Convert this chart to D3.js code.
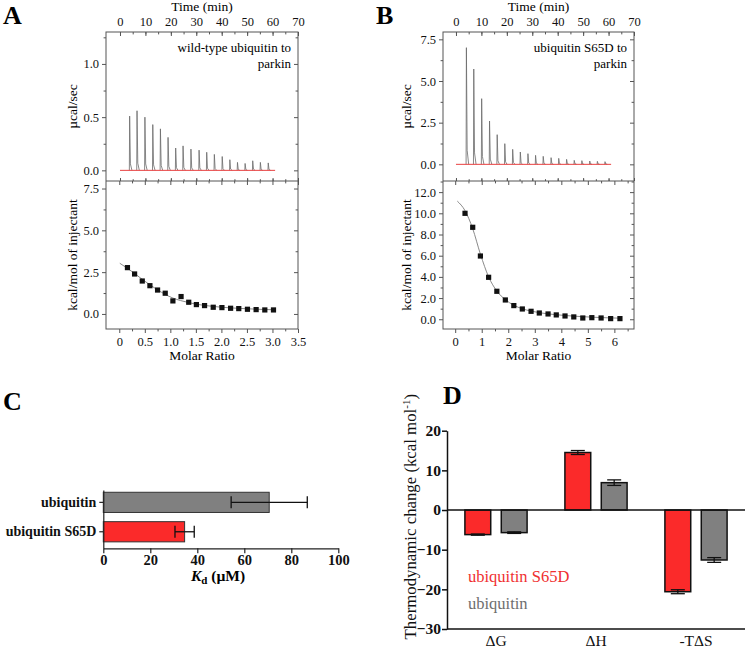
<!DOCTYPE html>
<html>
<head>
<meta charset="utf-8">
<script src="https://cdn.jsdelivr.net/npm/d3@7"></script>
<style>
  body { margin: 0; background: white; }
  svg { display: block; font-family: "Liberation Serif", "Times New Roman", "DejaVu Serif", serif; }
  svg text { font-family: "Liberation Serif", "Times New Roman", "DejaVu Serif", serif !important; }
</style>
</head>
<body>
<svg id="chart" width="745" height="648"></svg>
<script>
// ---- panel A: wild-type ubiquitin to parkin ----
let time_a = [3.8, 6.7, 9.8, 12.9, 15.9, 18.9, 21.9, 24.8, 27.9, 31.1, 34.1, 37.1, 40.2, 43.2, 46.2, 49.2, 52.2, 55.2, 58.3];
let peak_a = [0.51, 0.56, 0.50, 0.43, 0.39, 0.31, 0.21, 0.23, 0.20, 0.19, 0.17, 0.15, 0.13, 0.10, 0.075, 0.065, 0.09, 0.075, 0.07];
let ratio_a = [0.16, 0.30, 0.45, 0.60, 0.75, 0.90, 1.05, 1.21, 1.36, 1.51, 1.67, 1.84, 2.01, 2.18, 2.34, 2.51, 2.68, 2.85, 3.02];
let heat_a = [2.77, 2.39, 1.97, 1.69, 1.43, 1.24, 0.78, 1.04, 0.70, 0.56, 0.50, 0.40, 0.38, 0.34, 0.32, 0.28, 0.26, 0.24, 0.24];
let fit_a = [[0.01, 3.03], [0.16, 2.73], [0.30, 2.42], [0.45, 2.07], [0.60, 1.74], [0.75, 1.44], [0.90, 1.17], [1.05, 0.95],
             [1.20, 0.80], [1.36, 0.68], [1.51, 0.58], [1.67, 0.51], [1.84, 0.45], [2.01, 0.40], [2.2, 0.36], [2.5, 0.31], [2.8, 0.27], [3.05, 0.25]];

// ---- panel B: ubiquitin S65D to parkin ----
let time_b = [4.1, 7.0, 10.1, 13.2, 16.2, 19.2, 22.3, 25.3, 28.3, 31.3, 34.3, 37.4, 40.4, 43.5, 46.5, 49.5, 52.6, 55.6, 58.6];
let peak_b = [7.0, 5.72, 3.94, 2.6, 1.78, 1.24, 0.9, 0.74, 0.64, 0.54, 0.48, 0.40, 0.36, 0.30, 0.24, 0.22, 0.20, 0.18, 0.16];
let ratio_b = [0.37, 0.66, 0.95, 1.26, 1.57, 1.89, 2.21, 2.53, 2.86, 3.17, 3.50, 3.81, 4.14, 4.47, 4.81, 5.15, 5.50, 5.86, 6.21];
let heat_b = [10.0, 8.68, 5.97, 3.96, 2.64, 1.82, 1.29, 0.97, 0.75, 0.59, 0.50, 0.41, 0.31, 0.22, 0.12, 0.15, 0.12, 0.06, 0.06];
let fit_b = [[0.08, 11.15], [0.37, 10.25], [0.66, 8.55], [0.95, 6.15], [1.26, 4.0], [1.57, 2.66], [1.89, 1.85], [2.21, 1.32],
             [2.53, 0.99], [2.86, 0.77], [3.2, 0.61], [3.8, 0.43], [4.5, 0.29], [5.2, 0.19], [6.25, 0.10]];

// ---- panel C: Kd ----
let kd_names = ["ubiquitin", "ubiquitin S65D"];
let kd_values = [70.6, 34.6];
let kd_errors = [16.2, 4.1];
let kd_ticks = [0, 20, 40, 60, 80, 100];

// ---- panel D: thermodynamics ----
let thermo_terms = ["\u0394G", "\u0394H", "-T\u0394S"];
let thermo_series = ["ubiquitin S65D", "ubiquitin"];
let thermo_s65d = [-6.2, 14.5, -20.6];
let thermo_s65d_err = [0.15, 0.5, 0.5];
let thermo_ubq = [-5.7, 6.9, -12.6];
let thermo_ubq_err = [0.2, 0.7, 0.6];
let thermo_ticks = [-30, -20, -10, 0, 10, 20];

let frame_color = "#555";
let red = "#fb2a2a";
let gray = "#808080";

let svg = d3.select("#chart").style("background-color", "white");
svg.append("rect").attr("width", 745).attr("height", 648).attr("fill", "white");

function range_step(a, b, s) {
    let out = [];
    for (let v = a; v <= b + 1e-9; v += s) out.push(+v.toFixed(4));
    return out;
}

function addAxis(g_parent, axis_fn, scale, tx, ty, major, minor, size, pad, fmt, font_size, bold) {
    if (minor) {
        let gm = g_parent.append("g").attr("transform", "translate(" + tx + "," + ty + ")");
        gm.call(axis_fn(scale).tickValues(minor).tickSize(size * 0.6).tickFormat(""));
        gm.select(".domain").remove();
        gm.selectAll(".tick line").attr("stroke", frame_color);
    }
    let g = g_parent.append("g").attr("transform", "translate(" + tx + "," + ty + ")");
    g.call(axis_fn(scale).tickValues(major).tickSize(size).tickPadding(pad).tickFormat(fmt));
    g.attr("font-family", null);
    g.select(".domain").remove();
    g.selectAll(".tick line").attr("stroke", frame_color);
    g.selectAll(".tick text")
        .style("font-size", font_size + "px")
        .style("font-weight", bold ? "bold" : "normal")
        .attr("fill", "#111");
    return g;
}

function drawItc(p) {
    let g = svg.append("g");
    let x_time = d3.scaleLinear().domain(p.time_domain).range([p.left, p.right]);
    let y_top = d3.scaleLinear().domain(p.top_domain).range([p.mid, p.top]);
    let x_ratio = d3.scaleLinear().domain(p.ratio_domain).range([p.left, p.right]);
    let y_bot = d3.scaleLinear().domain(p.bot_domain).range([p.bottom, p.mid]);
    let f1 = d3.format(".1f");

    // top axes
    addAxis(g, d3.axisTop, x_time, 0, p.top, range_step(0, 70, 10), range_step(0, 70, 5), -4, 6, d3.format("d"), 12.5);
    addAxis(g, d3.axisLeft, y_top, p.left, 0, p.top_major, p.top_minor, 4, 3, f1, 12.5);
    addAxis(g, d3.axisLeft, y_top, p.right, 0, p.top_major, p.top_minor, 4, 3, "", 12);
    addAxis(g, d3.axisTop, x_time, 0, p.mid, range_step(0, 70, 10), range_step(0, 70, 5), 3, 3, "", 12);

    // bottom axes
    addAxis(g, d3.axisBottom, x_ratio, 0, p.mid, p.ratio_major, p.ratio_minor, 4, 3, "", 12);
    addAxis(g, d3.axisBottom, x_ratio, 0, p.bottom, p.ratio_major, p.ratio_minor, 4, 4,
        d => d === 0 ? "0" : p.ratio_fmt(d), 12.5);
    addAxis(g, d3.axisLeft, y_bot, p.left, 0, p.bot_major, p.bot_minor, 4, 3, f1, 12.5);
    addAxis(g, d3.axisLeft, y_bot, p.right, 0, p.bot_major, p.bot_minor, 4, 3, "", 12);

    // raw thermogram
    let spike_line = d3.line().x(d => x_time(d[0])).y(d => y_top(d[1]));
    p.times.forEach((t, i) => {
        let pk = p.peaks[i];
        g.append("path")
            .attr("d", spike_line([[t - 0.12, 0], [t, pk], [t + 0.3, pk * 0.12], [t + 0.9, 0]]))
            .attr("fill", "none")
            .attr("stroke", "#6a6a6a")
            .attr("stroke-width", 0.8);
    });
    g.append("path")
        .attr("d", spike_line([[0, 0], [61, 0]]))
        .attr("stroke", "#e84040")
        .attr("stroke-width", 1);

    // integrated heats
    let fit_line = d3.line().x(d => x_ratio(d[0])).y(d => y_bot(d[1])).curve(d3.curveMonotoneX);
    g.append("path")
        .attr("d", fit_line(p.fit))
        .attr("fill", "none")
        .attr("stroke", "#8a8a8a")
        .attr("stroke-width", 1);
    g.selectAll(".pt")
        .data(p.ratios)
        .join("rect")
        .attr("x", (d, i) => x_ratio(d) - 2.6)
        .attr("y", (d, i) => y_bot(p.heats[i]) - 2.6)
        .attr("width", 5.2)
        .attr("height", 5.2)
        .attr("fill", "#111");

    // frame
    g.append("rect")
        .attr("x", p.left).attr("y", p.top)
        .attr("width", p.right - p.left).attr("height", p.bottom - p.top)
        .attr("fill", "none").attr("stroke", frame_color).attr("stroke-width", 1);
    g.append("line")
        .attr("x1", p.left).attr("x2", p.right).attr("y1", p.mid).attr("y2", p.mid)
        .attr("stroke", frame_color).attr("stroke-width", 1);

    // texts
    let cx = (p.left + p.right) / 2;
    g.append("text").attr("x", cx).attr("y", 10.5).attr("text-anchor", "middle")
        .style("font-size", "13.5px").text("Time (min)");
    g.append("text").attr("x", cx).attr("y", 360).attr("text-anchor", "middle")
        .style("font-size", "13.5px").text("Molar Ratio");
    g.append("text")
        .attr("transform", "translate(" + p.ylab_x + "," + ((p.top + p.mid) / 2) + ") rotate(-90)")
        .attr("text-anchor", "middle").style("font-size", "13.5px")
        .text("\u00b5cal/sec");
    g.append("text")
        .attr("transform", "translate(" + p.ylab_x + "," + ((p.mid + p.bottom) / 2) + ") rotate(-90)")
        .attr("text-anchor", "middle").style("font-size", "13.5px")
        .text("kcal/mol of injectant");
    p.note.forEach((line, i) => {
        g.append("text").attr("x", p.right - 7).attr("y", 52 + i * 15.5).attr("text-anchor", "end")
            .style("font-size", "13px").text(line);
    });
    g.append("text").attr("x", p.letter_x).attr("y", 23.5)
        .style("font-size", "26px").style("font-weight", "bold").text(p.letter);
}

drawItc({
    letter: "A", letter_x: 3, ylab_x: 77,
    left: 106, right: 298, top: 32, mid: 181, bottom: 329,
    time_domain: [-5.5, 70], top_domain: [-0.1, 1.3], ratio_domain: [-0.26, 3.5], bot_domain: [-0.9, 7.95],
    top_major: [0, 0.5, 1.0], top_minor: [0.25, 0.75, 1.25],
    bot_major: [0, 2.5, 5.0, 7.5], bot_minor: [1.25, 3.75, 6.25],
    ratio_major: range_step(0, 3.5, 0.5), ratio_minor: range_step(0.25, 3.25, 0.5), ratio_fmt: d3.format(".1f"),
    times: time_a, peaks: peak_a, ratios: ratio_a, heats: heat_a, fit: fit_a,
    note: ["wild-type ubiquitin to", "parkin"]
});

drawItc({
    letter: "B", letter_x: 376, ylab_x: 411,
    left: 443, right: 634, top: 32, mid: 181, bottom: 329,
    time_domain: [-5.1, 70], top_domain: [-1.0, 7.94], ratio_domain: [-0.46, 6.74], bot_domain: [-0.92, 13.05],
    top_major: [0, 2.5, 5.0, 7.5], top_minor: [1.25, 3.75, 6.25],
    bot_major: range_step(0, 12, 2), bot_minor: range_step(1, 13, 2),
    ratio_major: range_step(0, 6, 1), ratio_minor: range_step(0.5, 6.5, 1), ratio_fmt: d3.format("d"),
    times: time_b, peaks: peak_b, ratios: ratio_b, heats: heat_b, fit: fit_b,
    note: ["ubiquitin S65D to", "parkin"]
});

// ---- panel C ----
let gc = svg.append("g");
let x_kd = d3.scaleLinear().domain([0, 100]).range([103.3, 338.3]);
let y_kd = d3.scaleBand().domain(kd_names).range([490, 548]).paddingInner(0.313).paddingOuter(0.143).align(0.27);
let kd_colors = [gray, red];

gc.selectAll(".kdbar")
    .data(kd_values)
    .join("rect")
    .attr("x", x_kd(0))
    .attr("y", (d, i) => y_kd(kd_names[i]))
    .attr("width", d => x_kd(d) - x_kd(0))
    .attr("height", y_kd.bandwidth())
    .attr("fill", (d, i) => kd_colors[i])
    .attr("stroke", "#333")
    .attr("stroke-width", 1);

kd_values.forEach((v, i) => {
    let yc = y_kd(kd_names[i]) + y_kd.bandwidth() / 2;
    let x1 = x_kd(v - kd_errors[i]), x2 = x_kd(v + kd_errors[i]);
    gc.append("line").attr("x1", x1).attr("x2", x2).attr("y1", yc).attr("y2", yc).attr("stroke", "#111").attr("stroke-width", 1.3);
    [x1, x2].forEach(xx => {
        gc.append("line").attr("x1", xx).attr("x2", xx).attr("y1", yc - 6).attr("y2", yc + 6).attr("stroke", "#111").attr("stroke-width", 1.3);
    });
});

let gcx = gc.append("g").attr("transform", "translate(0,548.3)")
    .call(d3.axisBottom(x_kd).tickValues(kd_ticks).tickSize(5).tickPadding(1).tickSizeOuter(0));
gcx.attr("font-family", null);
gcx.selectAll("text").style("font-size", "14.5px").style("font-weight", "bold").attr("fill", "#111");
gcx.selectAll("line, path").attr("stroke", "#222").attr("stroke-width", 1.2);

let gcy = gc.append("g").attr("transform", "translate(103.3,0)")
    .call(d3.axisLeft(y_kd).tickSize(4).tickPadding(3).tickSizeOuter(0));
gcy.attr("font-family", null);
gcy.selectAll("text").style("font-size", "14px").style("font-weight", "bold").attr("fill", "#111");
gcy.selectAll("line, path").attr("stroke", "#222").attr("stroke-width", 1.2);

let kd_label = gc.append("text").attr("x", 218).attr("y", 581).attr("text-anchor", "middle")
    .style("font-size", "15.5px").style("font-weight", "bold");
kd_label.append("tspan").style("font-style", "italic").text("K");
kd_label.append("tspan").style("font-size", "11px").attr("dy", 3).text("d");
kd_label.append("tspan").attr("dy", -3).text(" (\u00b5M)");

gc.append("text").attr("x", 3).attr("y", 410)
    .style("font-size", "26px").style("font-weight", "bold").text("C");

// ---- panel D ----
let gd = svg.append("g");
let x_term = d3.scaleBand().domain(thermo_terms).range([446, 746]);
let x_series = d3.scaleBand().domain(thermo_series).range([0, x_term.bandwidth()]).paddingInner(0.29).paddingOuter(0.52);
let y_thermo = d3.scaleLinear().domain([-30, 20]).range([629, 430.7]);

let series_data = [
    { name: thermo_series[0], values: thermo_s65d, errors: thermo_s65d_err, color: red },
    { name: thermo_series[1], values: thermo_ubq, errors: thermo_ubq_err, color: gray }
];

series_data.forEach(s => {
    s.values.forEach((v, i) => {
        let bx = x_term(thermo_terms[i]) + x_series(s.name);
        let bw = x_series.bandwidth();
        gd.append("rect")
            .attr("x", bx)
            .attr("y", y_thermo(Math.max(0, v)))
            .attr("width", bw)
            .attr("height", Math.abs(y_thermo(v) - y_thermo(0)))
            .attr("fill", s.color)
            .attr("stroke", "#111")
            .attr("stroke-width", 1.5);
        let cx = bx + bw / 2;
        let y1 = y_thermo(v - s.errors[i]), y2 = y_thermo(v + s.errors[i]);
        gd.append("line").attr("x1", cx).attr("x2", cx).attr("y1", y1).attr("y2", y2).attr("stroke", "#111").attr("stroke-width", 1.3);
        [y1, y2].forEach(yy => {
            gd.append("line").attr("x1", cx - 7).attr("x2", cx + 7).attr("y1", yy).attr("y2", yy).attr("stroke", "#111").attr("stroke-width", 1.3);
        });
    });
});

// zero line and bottom line
gd.append("line").attr("x1", 447).attr("x2", 745).attr("y1", y_thermo(0)).attr("y2", y_thermo(0)).attr("stroke", "#111").attr("stroke-width", 1.5);

let gdx = gd.append("g").attr("transform", "translate(0,629)")
    .call(d3.axisBottom(x_term).tickSize(0).tickPadding(6));
gdx.attr("font-family", null);
gdx.select(".domain").attr("d", "M447,0H745").attr("stroke", "#111").attr("stroke-width", 1.5);
gdx.selectAll("text").style("font-size", "15.5px").attr("fill", "#111");

let gdy = gd.append("g").attr("transform", "translate(447,0)")
    .call(d3.axisLeft(y_thermo).tickValues(thermo_ticks).tickSize(5).tickPadding(1).tickSizeOuter(0));
gdy.attr("font-family", null);
gdy.selectAll("line, path").attr("stroke", "#111").attr("stroke-width", 1.5);
gdy.selectAll("text").style("font-size", "15.5px").style("font-weight", "bold").attr("fill", "#111");

let ylab_d = gd.append("text")
    .attr("transform", "translate(416,394) rotate(-90)")
    .attr("text-anchor", "end")
    .style("font-size", "16.8px").attr("fill", "#111");
ylab_d.append("tspan").text("Thermodynamic change (kcal mol");
ylab_d.append("tspan").style("font-size", "11px").attr("dy", -6).text("-1");
ylab_d.append("tspan").attr("dy", 6).text(")");

series_data.forEach((s, i) => {
    gd.append("text").attr("x", 468).attr("y", 582 + i * 27)
        .style("font-size", "16.5px")
        .attr("fill", i === 0 ? "#f03030" : "#6e6e6e")
        .text(s.name);
});

gd.append("text").attr("x", 443).attr("y", 404)
    .style("font-size", "26px").style("font-weight", "bold").text("D");
</script>
</body>
</html>
